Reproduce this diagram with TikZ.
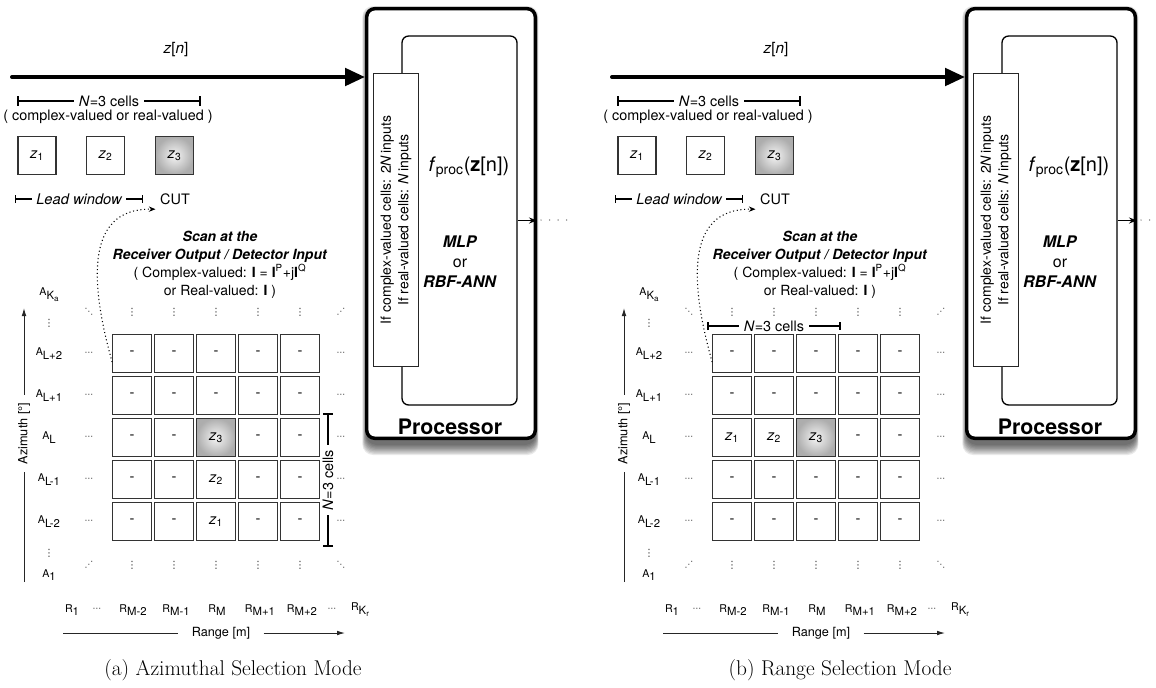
\documentclass[tikz,border=0pt]{standalone}
\usepackage{fontspec}
\newfontfamily\hv{TeX Gyre Heros}
\newfontfamily\dv{DejaVu Sans}
\usetikzlibrary{arrows.meta}

\newcommand\fs[2]{\fontsize{#1}{#2}\selectfont}
\newcommand\zz[1]{\textit{z}\textsubscript{#1}}
\newcommand\idx[2]{{\fs{8}{9}#1}\raisebox{-2.6pt}{\fs{8.5}{10}#2}}
\newcommand\subsub[1]{\raisebox{-2pt}{\fs{6}{7}#1}}

\tikzset{
  every node/.style={font=\hv\fs{10.8}{13}},
  cell/.style={draw=black!80, line width=0.8pt, minimum size=29pt, inner sep=0pt,
    fill=white, font=\hv\fs{11}{13}},
  hot/.style={cell, shading=radial, inner color=black!4, outer color=black!32},
  topbox/.style={cell, minimum size=28.5pt},
  tophot/.style={hot, minimum size=28.5pt},
  dimline/.style={line width=1.5pt, {Bar[width=7pt]}-{Bar[width=7pt]}},
  gapped/.style={fill=white, inner xsep=4pt, inner ysep=0.5pt},
  mdots/.style={font=\dv\fs{7.5}{9}, inner sep=0.5pt, text=black!80},
  hdots/.style={mdots, font=\dv\fs{6.5}{8}},
  rlab/.style={font=\hv, inner sep=1pt},
  axis/.style={line width=0.7pt, draw=black!85},
  axtip/.style={-{Latex[length=6pt,width=3.5pt]}},
  procbox/.style={draw, line width=2.6pt, rounded corners=6pt, fill=white,
    inner sep=0pt, minimum width=126.4pt, minimum height=322.2pt},
  scanpath/.style={dotted, line width=0.8pt, -{Stealth[length=5pt,width=4pt]}},
  caption/.style={font=\fs{16}{19}},
}

% everything a panel has in common: input, processor, cell row, axes
\newcommand\drawpanel[1]{%
  % blurred drop shadow of the processor block
  \foreach \k in {0,...,8}{%
    \fill[black, opacity=0.085, rounded corners=8pt]
      ({366-0.45*\k},{14-\k}) rectangle ({536+0.3*\k},{445+1.25*\k});
  }%
  \node[procbox] (#1proc) at (451,223.5) {};
  \node[draw, line width=1pt, rounded corners=5pt, inner sep=0pt,
    minimum width=86.25pt, minimum height=276.75pt] (#1core) at (459.5,220.5) {};
  \node[draw=black!85, fill=white, line width=0.8pt, rotate=90, inner sep=0pt,
    minimum width=219.75pt, minimum height=33.75pt, align=center,
    font=\hv\fs{10.5}{13}] (#1bar) at (396,220)
    {If complex-valued cells: 2\textit{N}\,inputs\\If real-valued cells: \textit{N}\,inputs};
  \node[font=\hv\fs{15}{18}] (#1f) at (469,167) {\textit{f}\textsubscript{proc}(\textbf{z}[n])};
  \node[font=\hv\fs{12}{15}, align=center] (#1net) at (460,262)
    {\textbf{\textit{MLP}}\\or\\\textbf{\textit{RBF-ANN}}};
  \node[font=\hv\bfseries\fs{16}{19}] (#1plab) at (450,427) {Processor};
  % output of the processor
  \coordinate (#1dot) at (541,220);
  \coordinate (#1out) at (567,220);
  \draw[line width=0.8pt, -{Stealth[length=6pt,width=4.5pt]}] (#1core.east) -- (#1core.east -| #1proc.east);
  \draw[line width=1.1pt, line cap=round, dash pattern=on 0pt off 6.4pt, draw=black!60] (#1dot) -- (#1out);
  % input vector
  \coordinate (#1in) at (12,77);
  \draw[line width=3pt, line cap=round, -{Triangle[length=15pt,width=13pt]}] (#1in) -- (#1in -| #1proc.west);
  \node[font=\hv\fs{11.5}{13}] (#1zn) at (176,50) {\textit{z}[\textit{n}]};
  \coordinate (#1nl) at (17,101);
  \coordinate (#1nr) at (201,101);
  \draw[dimline] (#1nl) -- (#1nr) node[midway, gapped] (#1nlab) {\textit{N}=3 cells};
  \node (#1kind) at (108,117) {( complex-valued or real-valued )};
  \node[topbox] (#1z1) at (37,155.5) {\zz{1}};
  \node[topbox] (#1z2) at (105.5,155.5) {\zz{2}};
  \node[tophot] (#1z3) at (174.5,155.5) {\zz{3}};
  \coordinate (#1lw1) at (15,199);
  \coordinate (#1lw2) at (143,199);
  \draw[line width=0.8pt, {Bar[width=6pt]}-{Bar[width=6pt]}] (#1lw1) -- (#1lw2)
    node[midway, gapped, inner xsep=3.5pt, font=\hv\itshape\fs{11}{13}] (#1lwlab) {Lead window};
  \node (#1cut) at (175,199) {CUT};
  \node[font=\hv\fs{10.5}{13.5}, align=center] (#1scan) at (220,264.5)
    {\textbf{\textit{Scan at the}}\\\textbf{\textit{Receiver Output / Detector Input}}\\
     ( Complex-valued: \textbf{I} = \textbf{I}\textsuperscript{P}+j\textbf{I}\textsuperscript{Q}\\
     or Real-valued: \textbf{I} )};
  % azimuth labels
  \node[rlab] (#1aK) at (49,295) {\idx{A}{K\subsub{a}}};
  \node[mdots] (#1av1) at (49,323) {⋮};
  \foreach \r/\t in {0/{L+2},1/{L+1},2/{L},3/{L-1},4/{L-2}}{%
    \node[rlab] (#1a\r) at (49,{353.5+42*\r}) {\idx{A}{\t}};
    \node[hdots] (#1ld\r) at (89,{353.5+42*\r}) {⋯};
    \node[hdots] (#1rd\r) at (341,{353.5+42*\r}) {⋯};
  }%
  \node[mdots] (#1av2) at (49,553) {⋮};
  \node[rlab] (#1a1) at (49,575) {\idx{A}{1}};
  % continuation marks above and below the grid
  \foreach \c in {0,...,4}{%
    \node[mdots] (#1td\c) at ({132+42*\c},312) {⋮};
    \node[mdots] (#1bd\c) at ({132+42*\c},565) {⋮};
  }%
  \node[hdots] (#1tl) at (89,312) {⋱};
  \node[hdots] (#1tr) at (341,312) {⋰};
  \node[hdots] (#1bl) at (89,565) {⋰};
  \node[hdots] (#1br) at (341,565) {⋱};
  % range labels
  \node[rlab] (#1r1) at (72,610) {\idx{R}{1}};
  \node[hdots] (#1rdl) at (97,610) {⋯};
  \node[rlab] (#1rm2) at (133,610) {\idx{R}{M-2}};
  \node[rlab] (#1rm1) at (176,610) {\idx{R}{M-1}};
  \node[rlab] (#1rm) at (217,610) {\idx{R}{M}};
  \node[rlab] (#1rp1) at (260,610) {\idx{R}{M+1}};
  \node[rlab] (#1rp2) at (302,610) {\idx{R}{M+2}};
  \node[hdots] (#1rdr) at (332,610) {⋯};
  \node[rlab] (#1rK) at (360,610) {\idx{R}{K\subsub{r}}};
  % axes
  \coordinate (#1azTail) at (24,582);
  \coordinate (#1azHead) at (24,308);
  \node[rotate=90, inner xsep=6pt, font=\hv\fs{9.5}{11}] (#1azLab) at (24,433.5) {Azimuth [°]};
  \draw[axis] (#1azTail) -- (#1azLab);
  \draw[axis, axtip] (#1azLab) -- (#1azHead);
  \coordinate (#1rgTail) at (63,633);
  \coordinate (#1rgHead) at (345,633);
  \node[inner xsep=10pt, font=\hv\fs{9.5}{11}] (#1rgLab) at (221,633) {Range [m]};
  \draw[axis] (#1rgTail) -- (#1rgLab);
  \draw[axis, axtip] (#1rgLab) -- (#1rgHead);
}

\begin{document}
\begin{tikzpicture}[x=0.75pt, y=-0.75pt]
\useasboundingbox (0,0) rectangle (1156,687);

% ---- (a) azimuthal selection ----
\drawpanel{a}
\foreach \r in {0,...,4}{\foreach \c in {0,1,3,4}{%
  \node[cell] (a\r\c) at ({132+42*\c},{353.5+42*\r}) {-};}}
\foreach \r in {0,1}{\node[cell] (a\r2) at (216,{353.5+42*\r}) {-};}
\node[hot] (a22) at (216,437.5) {\zz{3}};
\node[cell] (a32) at (216,479.5) {\zz{2}};
\node[cell] (a42) at (216,521.5) {\zz{1}};
\coordinate (avt) at (328,413);
\coordinate (avb) at (328,547);
\draw[line width=1.5pt, {Bar[width=7.5pt]}-{Bar[width=7.5pt]}] (avt) -- (avb)
  node[midway, gapped, rotate=90] (avlab) {\textit{N}=3 cells};
\draw[scanpath] ([yshift=-6.4pt]a00.west) .. controls (92,290) and (82,208) .. (acut.south west);
\node[caption] (capa) at (233,670) {(a) Azimuthal Selection Mode};

% ---- (b) range selection ----
\begin{scope}[xshift=450pt]
\drawpanel{b}
\foreach \r in {0,1,3,4}{\foreach \c in {0,...,4}{%
  \node[cell] (b\r\c) at ({132+42*\c},{353.5+42*\r}) {-};}}
\node[cell] (b20) at (132,437.5) {\zz{1}};
\node[cell] (b21) at (174,437.5) {\zz{2}};
\node[hot] (b22) at (216,437.5) {\zz{3}};
\foreach \c in {3,4}{\node[cell] (b2\c) at ({132+42*\c},437.5) {-};}
\coordinate (bht) at (107,326);
\coordinate (bhb) at (241,326);
\draw[line width=1.5pt, {Bar[width=6pt]}-{Bar[width=6pt]}] (bht) -- (bhb)
  node[midway, gapped] (bhlab) {\textit{N}=3 cells};
\draw[scanpath] ([yshift=-6.4pt]b00.west) .. controls (92,290) and (82,208) .. (bcut.south west);
\node[caption] (capb) at (240,670) {(b) Range Selection Mode};
\end{scope}
\end{tikzpicture}
\end{document}
